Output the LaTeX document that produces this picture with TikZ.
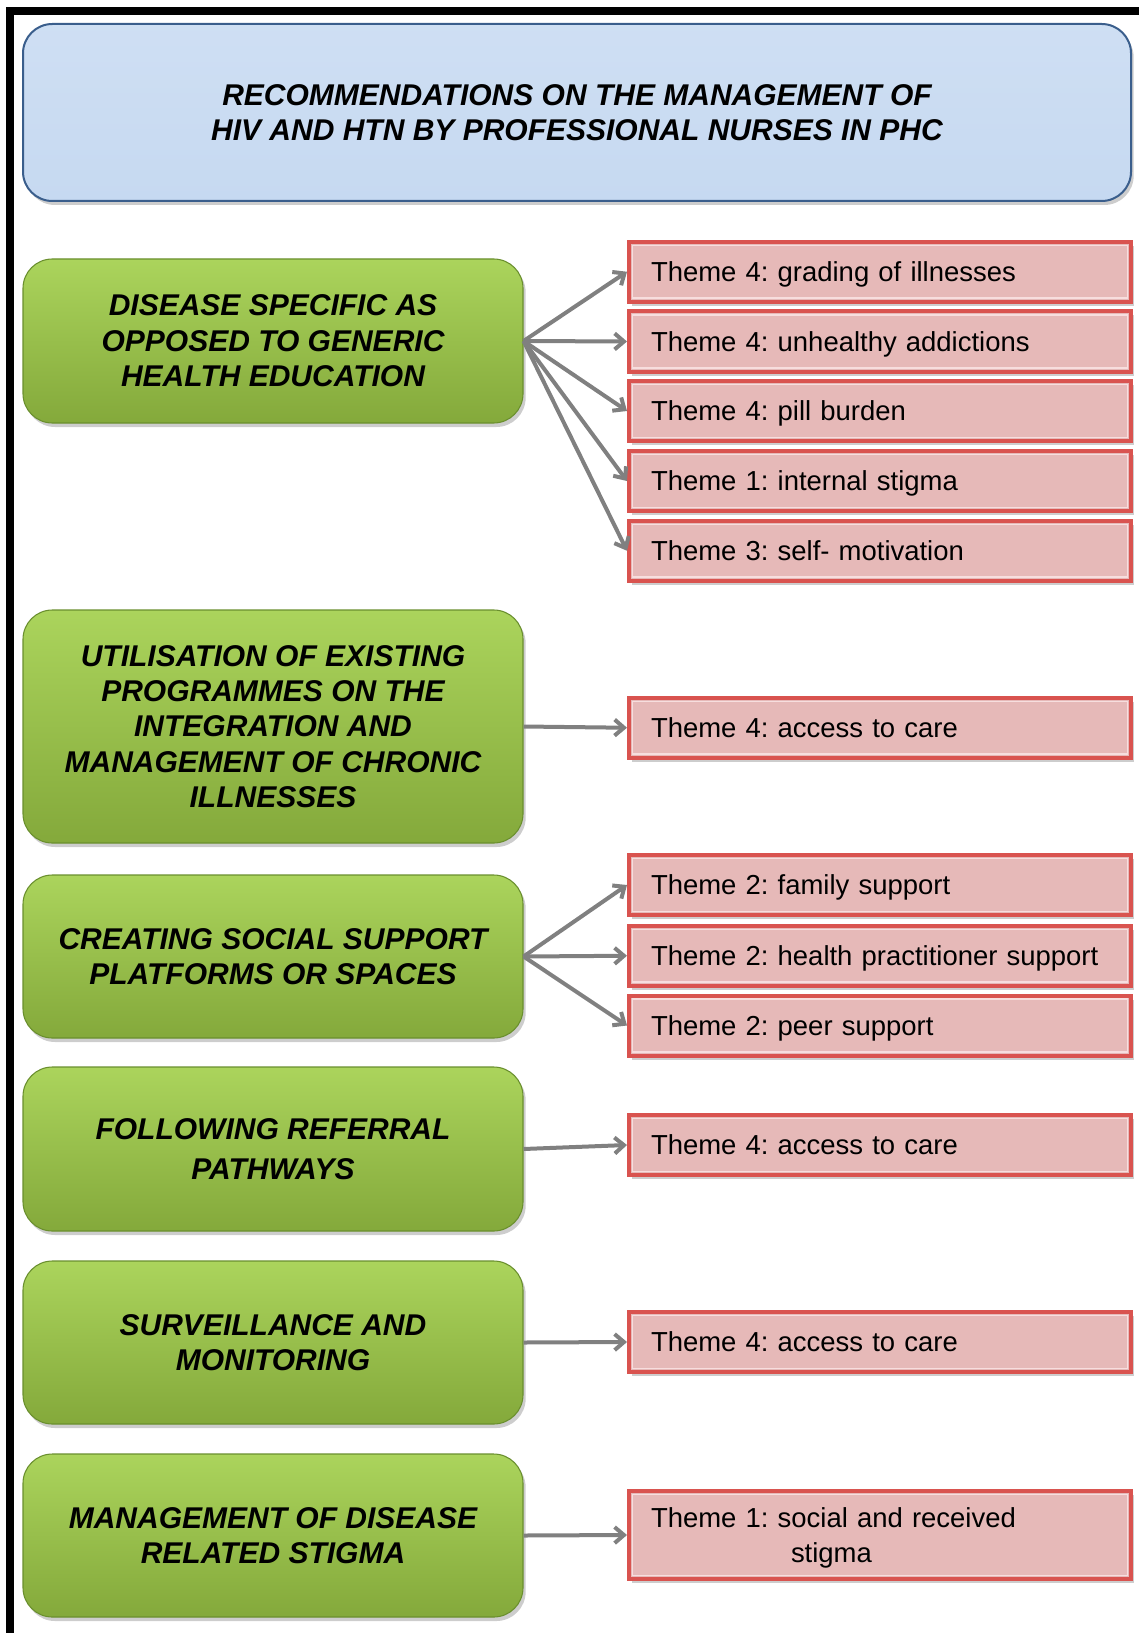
\documentclass[tikz,border=0pt]{standalone}
\usepackage{fontspec}
\setmainfont{Liberation Sans}
\usetikzlibrary{arrows.meta,shadows}
\definecolor{titlefill}{HTML}{C6D9F1}
\definecolor{titledraw}{HTML}{3A5E8C}
\definecolor{greentop}{HTML}{ABD45C}
\definecolor{greenbot}{HTML}{84A93B}
\definecolor{greendraw}{HTML}{6A8F2E}
\definecolor{pinkfill}{HTML}{E6B9B8}
\definecolor{pinkdraw}{HTML}{D9534F}
\definecolor{pinkinner}{HTML}{F7DEDE}
\definecolor{linkgray}{HTML}{808080}
\frenchspacing

\begin{document}
\begin{tikzpicture}[x=0.75pt,y=-0.75pt,
  softshadow/.style={drop shadow={opacity=0.28,fill=black!70,shadow xshift=2pt,shadow yshift=-3pt}},
  headfont/.style={font=\fontsize{22.5}{26.5}\selectfont\bfseries\itshape},
  titlebox/.style={draw=titledraw, line width=1.5pt, rounded corners=22pt,
    top color=titlefill!85!white, bottom color=titlefill,
    minimum width=831pt, minimum height=132.75pt, align=center, headfont, softshadow},
  recbox/.style={draw=greendraw, line width=0.8pt, rounded corners=22pt,
    top color=greentop, bottom color=greenbot,
    minimum width=375pt, align=center, headfont, softshadow},
  themebox/.style={draw=pinkdraw, line width=3pt, fill=pinkfill,
    minimum height=45pt, text width=343.5pt, inner xsep=16.5pt, align=left,
    text depth=0pt, font=\fontsize{20.6}{26.5}\selectfont, softshadow,
    path picture={\draw[pinkinner,line width=1.2pt]
      ([xshift=2.7pt,yshift=-2.7pt]path picture bounding box.north west) rectangle
      ([xshift=-2.7pt,yshift=2.7pt]path picture bounding box.south east);}},
  link/.style={draw=linkgray, line width=3pt, -{Straight Barb[length=7pt,width=12pt]}}
]
\useasboundingbox (0,0) rectangle (1139,1633);

% frame along the top and left edges
\draw[line width=6pt] (10,1633) -- (10,11) -- (1139,11);

% title
\node[titlebox] (title) at (577,112.5)
  {RECOMMENDATIONS ON THE MANAGEMENT OF\\HIV AND HTN BY PROFESSIONAL NURSES IN PHC};

% recommendations
\node[recbox, minimum height=123pt] (r1) at (273,341)
  {DISEASE SPECIFIC AS\\OPPOSED TO GENERIC\\HEALTH EDUCATION};
\node[recbox, minimum height=174.75pt] (r2) at (273,726.5)
  {UTILISATION OF EXISTING\\PROGRAMMES ON THE\\INTEGRATION AND\\MANAGEMENT OF CHRONIC\\ILLNESSES};
\node[recbox, minimum height=122.25pt] (r3) at (273,956.5)
  {CREATING SOCIAL SUPPORT\\PLATFORMS OR SPACES};
\node[recbox, minimum height=123pt, font=\fontsize{22.5}{30.5}\selectfont\bfseries\itshape] (r4) at (273,1149)
  {FOLLOWING REFERRAL\\PATHWAYS};
\node[recbox, minimum height=122.25pt] (r5) at (273,1342.5)
  {SURVEILLANCE AND\\MONITORING};
\node[recbox, minimum height=122.25pt] (r6) at (273,1535.5)
  {MANAGEMENT OF DISEASE\\RELATED STIGMA};

% themes
\node[themebox] (t1) at (880,271.75) {Theme 4: grading of illnesses};
\node[themebox] (t2) at (880,341.5) {Theme 4: unhealthy addictions};
\node[themebox] (t3) at (880,411) {Theme 4: pill burden};
\node[themebox] (t4) at (880,481) {Theme 1: internal stigma};
\node[themebox] (t5) at (880,550.75) {Theme 3: self- motivation};
\node[themebox] (t6) at (880,727.75) {Theme 4: access to care};
\node[themebox] (t7) at (880,885) {Theme 2: family support};
\node[themebox] (t8) at (880,955.75) {Theme 2: health practitioner support};
\node[themebox] (t9) at (880,1025.5) {Theme 2: peer support};
\node[themebox] (t10) at (880,1145) {Theme 4: access to care};
\node[themebox] (t11) at (880,1342) {Theme 4: access to care};
\node[themebox, minimum height=66pt, text depth=26.5pt] (t12) at (880,1535)
  {Theme 1: social and received\\\hspace*{105pt}stigma};

% links
\foreach \t in {t1,t2,t3,t4,t5} \draw[link] (r1.east) -- (\t.west);
\draw[link] (r2.east) -- (t6.west);
\foreach \t in {t7,t8,t9} \draw[link] (r3.east) -- (\t.west);
\draw[link] (r4.east) -- (t10.west);
\draw[link] (r5.east) -- (t11.west);
\draw[link] (r6.east) -- (t12.west);
\end{tikzpicture}
\end{document}
